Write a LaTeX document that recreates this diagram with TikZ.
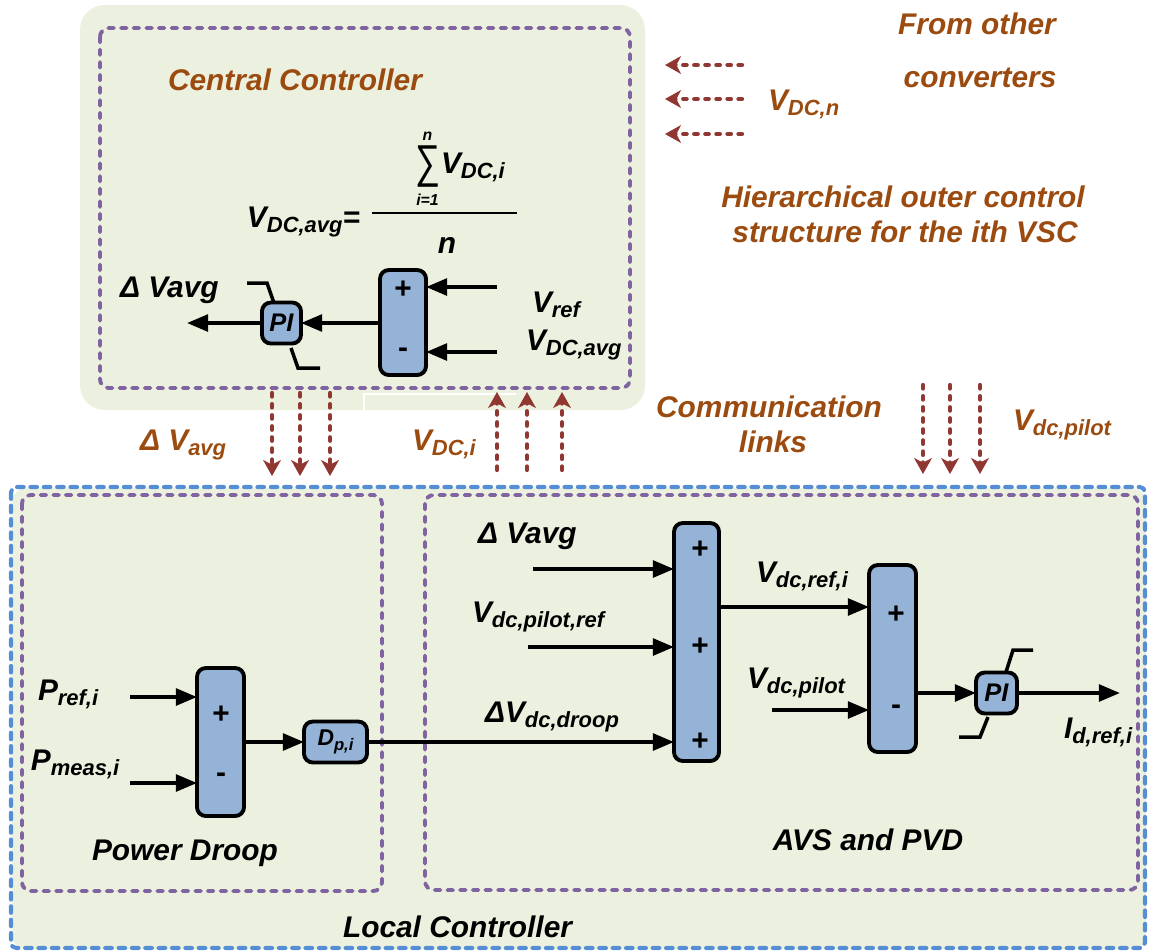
\documentclass[tikz,border=0pt]{standalone}
\usepackage{fontspec}
\setmainfont{Liberation Sans}
\usetikzlibrary{arrows.meta}
\definecolor{ccgreen}{RGB}{235,241,222}
\definecolor{blk}{RGB}{149,179,215}
\definecolor{brn}{RGB}{155,75,15}
\definecolor{lnk}{RGB}{145,55,50}
\definecolor{purp}{RGB}{128,100,162}
\definecolor{blu}{RGB}{85,142,213}
\newcommand{\subs}[1]{\raisebox{-0.2em}{\fontsize{12.5}{13}\selectfont #1}}
\begin{document}
\begin{tikzpicture}[x=0.02cm,y=-0.02cm,
  every node/.style={font=\fontsize{17}{20}\selectfont\bfseries\itshape, inner sep=0pt, outer sep=0pt},
  blockbox/.style={draw, line width=2.2pt, fill=blk, rounded corners=5pt, inner sep=0pt},
  arr/.style={line width=2.1pt, -{Triangle[length=12pt,width=9.5pt]}},
  link/.style={draw=lnk, line width=2.4pt, dash pattern=on 2pt off 4.3pt, line cap=round, -{Stealth[length=9pt,width=10pt,inset=2.5pt]}},
  pdash/.style={draw=purp, line width=2.2pt, dash pattern=on 3.2pt off 4pt, line cap=round, rounded corners=5pt},
  bdash/.style={draw=blu, line width=2.3pt, dash pattern=on 3.8pt off 3.8pt, line cap=round, rounded corners=3pt},
  lim/.style={line width=2pt},
  brtext/.style={text=brn},
  sign/.style={font=\fontsize{17}{20}\selectfont\bfseries},
]
\useasboundingbox (0,0) rectangle (1149,951);
% backgrounds
\fill[ccgreen, rounded corners=14pt] (80,5) rectangle (645,410);
\fill[ccgreen, rounded corners=8pt] (12,488) rectangle (1146,949);
\draw[white, line width=1.6pt] (364,410) -- (364,394) -- (516,394);
\draw[pdash] (100,28) rectangle (630,388);
\draw[bdash] (11,487) rectangle (1145,948);
\draw[pdash] (22,495) rectangle (382,891);
\draw[pdash] (425,495) rectangle (1138,890);

% ---------- central controller ----------
\node[brtext] (cctitle) at (295,80) {Central Controller};
\node[anchor=base east] (vavgeq) at (360,227) {V\subs{DC,avg}=};
\draw[line width=1.6pt] (372,213) -- (517,213);
\node[font=\fontsize{21}{24}\selectfont] (sumsym) at (427.5,167) {\scalebox{0.95}[1.25]{∑}};
\node[font=\fontsize{9}{10}\selectfont\bfseries\itshape] (sumtop) at (427.5,136) {n};
\node[font=\fontsize{9}{10}\selectfont\bfseries\itshape] (sumbot) at (427.5,200) {i=1};
\node[anchor=base west] (vdci) at (441,173) {V\subs{DC,i}};
\node[anchor=base] (nden) at (447,253) {n};

\node[blockbox, minimum width=0.92cm, minimum height=2.10cm] (cs) at (403,322.5) {};
\node[sign] at (403,290) {+};
\node[sign] at (403,353) {-};
\node[blockbox, minimum width=0.78cm, minimum height=0.82cm, font=\fontsize{14.5}{16}\selectfont\bfseries\itshape] (cpi) at (281.5,323) {PI};
\draw[lim] (247,283) -- (267,283) -- (274,303);
\draw[lim] (291,348) -- (298,368) -- (320,368);

\coordinate (vrefin) at (497,287);
\coordinate (vavgin) at (497,352);
\coordinate (dvout) at (187,323);
\draw[arr] (vrefin) -- (vrefin -| cs.east);
\draw[arr] (vavgin) -- (vavgin -| cs.east);
\draw[arr] (cs.west |- cpi.east) -- (cpi.east);
\draw[arr] (cpi.west) -- (dvout);
\node[anchor=base west] (lvref) at (532,312) {V\subs{ref}};
\node[anchor=base west] (lvdcavg) at (526,350) {V\subs{DC,avg}};
\node[anchor=base west] (ldvavg) at (120,297) {Δ Vavg};

% ---------- right texts ----------
\foreach \yy/\nm in {65/a,99/b,134/c}{
  \coordinate (ls\nm) at (742,\yy);
  \coordinate (le\nm) at (665,\yy);
  \draw[link] (ls\nm) -- (le\nm);
}
\node[anchor=base west, brtext] (lvdcn) at (768,110) {V\subs{DC,n}};
\node[brtext] (from) at (977,24) {From other};
\node[brtext] (conv) at (980,78) {converters};
\node[brtext] (hier1) at (903,197) {Hierarchical outer control};
\node[brtext] (hier2) at (905,232) {structure for the ith VSC};
\node[brtext] (comm1) at (769,407) {Communication};
\node[brtext] (comm2) at (773,442) {links};
\node[anchor=base west, brtext] (lvpilot) at (1013,430) {V\subs{dc,pilot}};

% ---------- communication links ----------
\foreach \xx/\nm in {272/a,300/b,330/c}{
  \coordinate (ds\nm) at (\xx,393);
  \coordinate (de\nm) at (\xx,476);
  \draw[link] (ds\nm) -- (de\nm);
}
\foreach \xx/\nm in {497/a,527/b,562/c}{
  \coordinate (us\nm) at (\xx,470);
  \coordinate (ue\nm) at (\xx,392);
  \draw[link] (us\nm) -- (ue\nm);
}
\foreach \xx/\nm in {923/a,950/b,980/c}{
  \coordinate (ps\nm) at (\xx,385);
  \coordinate (pe\nm) at (\xx,474);
  \draw[link] (ps\nm) -- (pe\nm);
}
\node[anchor=base west, brtext] (bdvavg) at (140,450) {Δ V\subs{avg}};
\node[anchor=base west, brtext] (bvdci) at (412,450) {V\subs{DC,i}};

% ---------- power droop ----------
\node[blockbox, minimum width=0.94cm, minimum height=2.96cm] (lsum) at (220.5,742) {};
\node[sign] at (221,715) {+};
\node[sign] at (221,778) {-};
\node[blockbox, minimum width=1.26cm, minimum height=0.82cm, font=\fontsize{13}{15}\selectfont\bfseries\itshape] (dp) at (335.5,742) {D\raisebox{-0.2em}{\fontsize{9.5}{10}\selectfont p,i}};
\coordinate (prin) at (130,697);
\coordinate (pmin) at (130,783);
\draw[arr] (prin) -- (prin -| lsum.west);
\draw[arr] (pmin) -- (pmin -| lsum.west);
\draw[arr] (lsum.east) -- (dp.west);
\node[anchor=base west] (lpref) at (38,700) {P\subs{ref,i}};
\node[anchor=base west] (lpmeas) at (31,770) {P\subs{meas,i}};
\node[anchor=base] (lpd) at (185,860) {Power Droop};
\node[anchor=base west] (llc) at (343,937) {Local Controller};

% ---------- AVS and PVD ----------
\node[blockbox, minimum width=0.90cm, minimum height=4.76cm] (bs) at (696.5,642) {};
\node[sign] at (700,550) {+};
\node[sign] at (700,647) {+};
\node[sign] at (700,742) {+};
\node[blockbox, minimum width=0.94cm, minimum height=3.74cm] (s2) at (892.5,658.5) {};
\node[sign] at (896,615) {+};
\node[sign] at (896,710) {-};
\node[blockbox, minimum width=0.82cm, minimum height=0.82cm, font=\fontsize{14.5}{16}\selectfont\bfseries\itshape] (pi2) at (996.5,693) {PI};
\draw[lim] (1006,672) -- (1013,650) -- (1033,650);
\draw[lim] (988,717) -- (980,737) -- (959,737);

\coordinate (dvin) at (533,569);
\coordinate (vprin) at (528,647);
\coordinate (vri) at (0,607);
\coordinate (vpin) at (772,710);
\coordinate (idout) at (1120,693);
\draw[arr] (dp.east) -- (dp.east -| bs.west);
\draw[arr] (dvin) -- (dvin -| bs.west);
\draw[arr] (vprin) -- (vprin -| bs.west);
\draw[arr] (bs.east |- vri) -- (s2.west |- vri);
\draw[arr] (vpin) -- (vpin -| s2.west);
\draw[arr] (s2.east |- pi2.west) -- (pi2.west);
\draw[arr] (pi2.east) -- (idout);

\node[anchor=base west] (ldv2) at (478,543) {Δ Vavg};
\node[anchor=base west] (lvpr) at (472,622) {V\subs{dc,pilot,ref}};
\node[anchor=base west] (ldroop) at (485,722) {ΔV\subs{dc,droop}};
\node[anchor=base west] (lvri) at (756,582) {V\subs{dc,ref,i}};
\node[anchor=base west] (lvp) at (747,688) {V\subs{dc,pilot}};
\node[anchor=base west] (lid) at (1064,738) {I\subs{d,ref,i}};
\node[anchor=base] (lavs) at (868,850) {AVS and PVD};
\end{tikzpicture}
\end{document}
